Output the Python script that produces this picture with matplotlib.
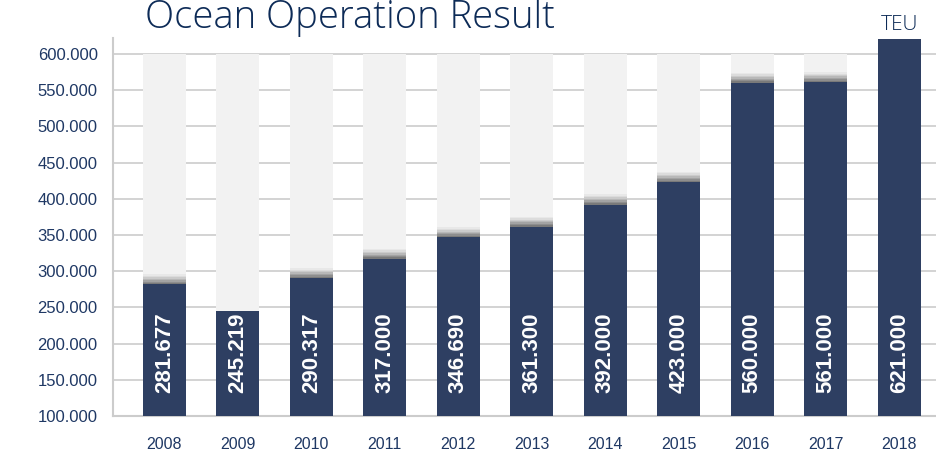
import matplotlib
matplotlib.use("Agg")
import matplotlib.pyplot as plt
import numpy as np

years = ["2008", "2009", "2010", "2011", "2012", "2013",
         "2014", "2015", "2016", "2017", "2018"]
teu = [281677, 245219, 290317, 317000, 346690, 361300,
       392000, 423000, 560000, 561000, 621000]
labels = ["281.677", "245.219", "290.317", "317.000", "346.690", "361.300",
          "392.000", "423.000", "560.000", "561.000", "621.000"]
yticks = [100000, 150000, 200000, 250000, 300000, 350000,
          400000, 450000, 500000, 550000, 600000]
ytick_labels = ["100.000", "150.000", "200.000", "250.000", "300.000", "350.000",
                "400.000", "450.000", "500.000", "550.000", "600.000"]

NAVY = "#2e3f62"
TEXT = "#1f3864"
TITLE = "#0d2b57"
BG_BAR = "#f2f2f2"
WIDTH = 0.585

plt.rcParams["font.family"] = ["Liberation Sans", "DejaVu Sans"]

fig = plt.figure(figsize=(9.36, 4.51), dpi=100)
ax = fig.add_axes([0.1207, 0.0776, 0.8793, 0.8381])

x = np.arange(len(years))
base = 100000

# light grey background columns up to 600.000 (not behind the last bar)
for i in x[:-1]:
    ax.bar(i, 600000 - base, bottom=base, width=WIDTH, color=BG_BAR, zorder=1)

# soft shadow above the navy bars
shades = ["#7a7a7a", "#8e8e8e", "#a3a3a3", "#b8b8b8", "#cbcbcb", "#dcdcdc", "#e8e8e8"]
for i, v in zip(x, teu):
    if years[i] in ("2009", "2018"):
        continue
    step = 2000
    for k, c in enumerate(shades):
        ax.bar(i, step, bottom=v + k * step, width=WIDTH, color=c,
               linewidth=0, zorder=2)

ax.bar(x, np.array(teu) - base, bottom=base, width=WIDTH, color=NAVY, zorder=3)

for i, lab in zip(x, labels):
    ax.text(i, 187000, lab, rotation=90, ha="center", va="center",
            color="white", fontsize=16, fontweight="bold", zorder=4)

ax.set_xlim(-0.7, 10.5)
ax.set_ylim(base, 622000)
ax.set_yticks(yticks)
ax.set_yticklabels(ytick_labels)
ax.set_xticks(x)
ax.set_xticklabels(years)
ax.tick_params(axis="both", length=0, colors=TEXT)
ax.tick_params(axis="x", pad=15, labelsize=11.5)
ax.tick_params(axis="y", pad=11, labelsize=12)

ax.grid(axis="y", color="#cccccc", linewidth=1.2, zorder=0)
ax.set_axisbelow(True)
for side in ("top", "right"):
    ax.spines[side].set_visible(False)
for side in ("left", "bottom"):
    ax.spines[side].set_color("#cccccc")
    ax.spines[side].set_linewidth(1.5)

fig.text(0.155, 0.937, "Ocean Operation Result", fontsize=27.5, color=TITLE,
         family=["Open Sans", "DejaVu Sans"], fontweight="light",
         ha="left", va="baseline")
fig.text(0.961, 0.934, "TEU", fontsize=15, color=TITLE,
         family=["Open Sans", "DejaVu Sans"], fontweight="light",
         ha="center", va="baseline")

fig.savefig("out.png", dpi=100)
